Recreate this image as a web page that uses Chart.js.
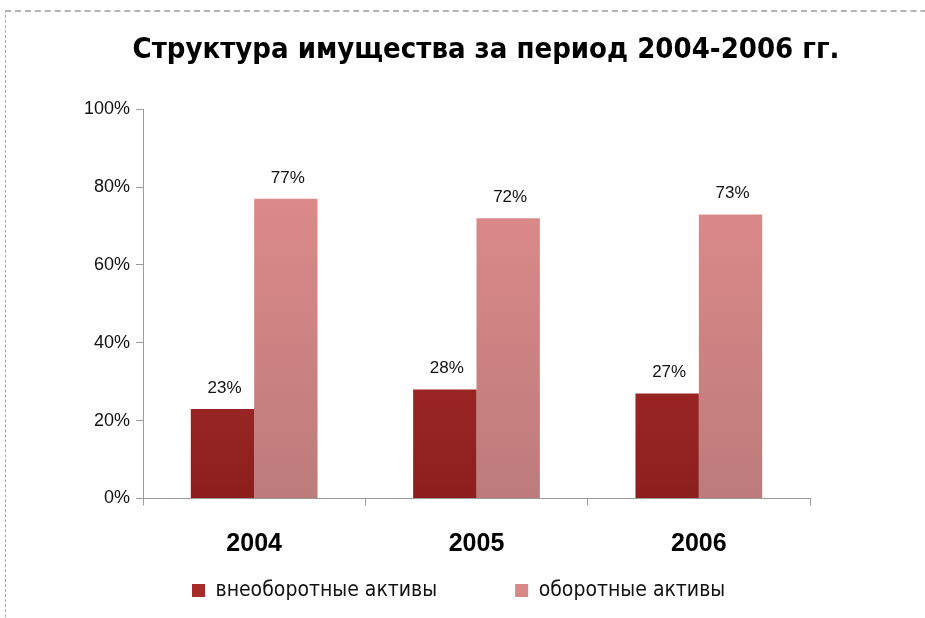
<!DOCTYPE html>
<html>
<head>
<meta charset="utf-8">
<script src="https://cdn.jsdelivr.net/npm/chart.js@4.4.1/dist/chart.umd.min.js"></script>
<style>
  html, body { margin: 0; padding: 0; background: #fff; }
  #wrap { position: relative; width: 925px; height: 618px; overflow: hidden; }
  #frame { position: absolute; left: 5px; top: 10px; width: 1000px; height: 700px;
           border-top: 2px dashed #b4b4b4; border-left: 1px dashed #a8a8a8; }
  canvas { position: absolute; left: 0; top: 0; }
</style>
</head>
<body>
<div id="wrap">
  <div id="frame"></div>
  <canvas id="assetsChart" width="925" height="618"></canvas>
</div>
<script>
const years = ['2004', '2005', '2006'];
const seriesNames = ['внеоборотные активы', 'оборотные активы'];
const nonCurrentAssets = [23, 28, 27];
const currentAssets = [77, 72, 73];
const legendColors = ['#a82a28', '#d98888'];

const CONDENSED = '"DejaVu Sans Condensed", "Liberation Sans", sans-serif';
const SANS = '"Liberation Sans", Arial, sans-serif';

// vertical gradient across the plot area, like the old Excel fill
function barFill(top, bottom) {
  return function(context) {
    const area = context.chart.chartArea;
    if (!area) return top;
    const g = context.chart.ctx.createLinearGradient(0, area.top, 0, area.bottom);
    g.addColorStop(0, top);
    g.addColorStop(1, bottom);
    return g;
  };
}

// value labels above each bar
const barLabels = {
  id: 'barLabels',
  afterDatasetsDraw(chart) {
    const ctx = chart.ctx;
    ctx.save();
    ctx.font = '17px ' + SANS;
    ctx.fillStyle = '#111';
    ctx.textAlign = 'center';
    ctx.textBaseline = 'middle';
    chart.data.datasets.forEach((ds, i) => {
      chart.getDatasetMeta(i).data.forEach((bar, j) => {
        ctx.fillText(ds.data[j] + '%', bar.x + 2, bar.y - 21);
      });
    });
    ctx.restore();
  }
};

// title and legend sit off-centre in the original, nudge them after layout.
// the legend box is also stretched down so its clip area keeps the items.
const shiftBoxes = {
  id: 'shiftBoxes',
  afterLayout(chart, args, opts) {
    const t = chart.titleBlock;
    t.left += opts.titleDx; t.right += opts.titleDx;
    const l = chart.legend;
    l.left += opts.legendDx; l.right += opts.legendDx;
    l.top = opts.legendTop; l.bottom = chart.height;
  }
};

new Chart(document.getElementById('assetsChart'), {
  type: 'bar',
  data: {
    labels: years,
    datasets: [
      {
        label: seriesNames[0],
        data: nonCurrentAssets,
        backgroundColor: barFill('#bb3631', '#8c1f1e'),
        categoryPercentage: 0.57,
        barPercentage: 1
      },
      {
        label: seriesNames[1],
        data: currentAssets,
        backgroundColor: barFill('#e48e8d', '#bd7b7b'),
        categoryPercentage: 0.57,
        barPercentage: 1
      }
    ]
  },
  plugins: [barLabels, shiftBoxes],
  options: {
    responsive: false,
    animation: false,
    layout: { padding: { left: 80, right: 115, top: 0, bottom: 8.5 } },
    plugins: {
      title: {
        display: true,
        text: 'Структура имущества за период 2004-2006 гг.',
        color: '#000',
        font: { family: CONDENSED, size: 29, weight: 'bold' },
        padding: { top: 33.5, bottom: 41 }
      },
      legend: {
        position: 'bottom',
        align: 'start',
        maxHeight: 26,
        labels: {
          color: '#111',
          font: { family: CONDENSED, size: 21 },
          boxWidth: 13,
          boxHeight: 13,
          padding: 78,
          generateLabels: chart =>
            Chart.defaults.plugins.legend.labels.generateLabels(chart).map((l, i) => ({
              ...l, fillStyle: legendColors[i], strokeStyle: legendColors[i], lineWidth: 0
            }))
        }
      },
      tooltip: { enabled: false },
      shiftBoxes: { titleDx: 41, legendDx: 34, legendTop: 502 }
    },
    scales: {
      x: {
        grid: { drawOnChartArea: false, tickLength: 7, offset: true, color: '#9a9a9a' },
        border: { color: '#9a9a9a' },
        ticks: {
          color: '#000',
          padding: 24,
          font: { family: SANS, size: 25, weight: 'bold' }
        }
      },
      y: {
        min: 0,
        max: 100,
        afterFit: scale => { scale.width = 63; },
        grid: { drawOnChartArea: false, tickLength: 7, color: '#9a9a9a' },
        border: { color: '#9a9a9a' },
        ticks: {
          stepSize: 20,
          color: '#111',
          padding: 6,
          font: { family: SANS, size: 18 },
          callback: v => v + '%'
        }
      }
    }
  }
});
</script>
</body>
</html>
